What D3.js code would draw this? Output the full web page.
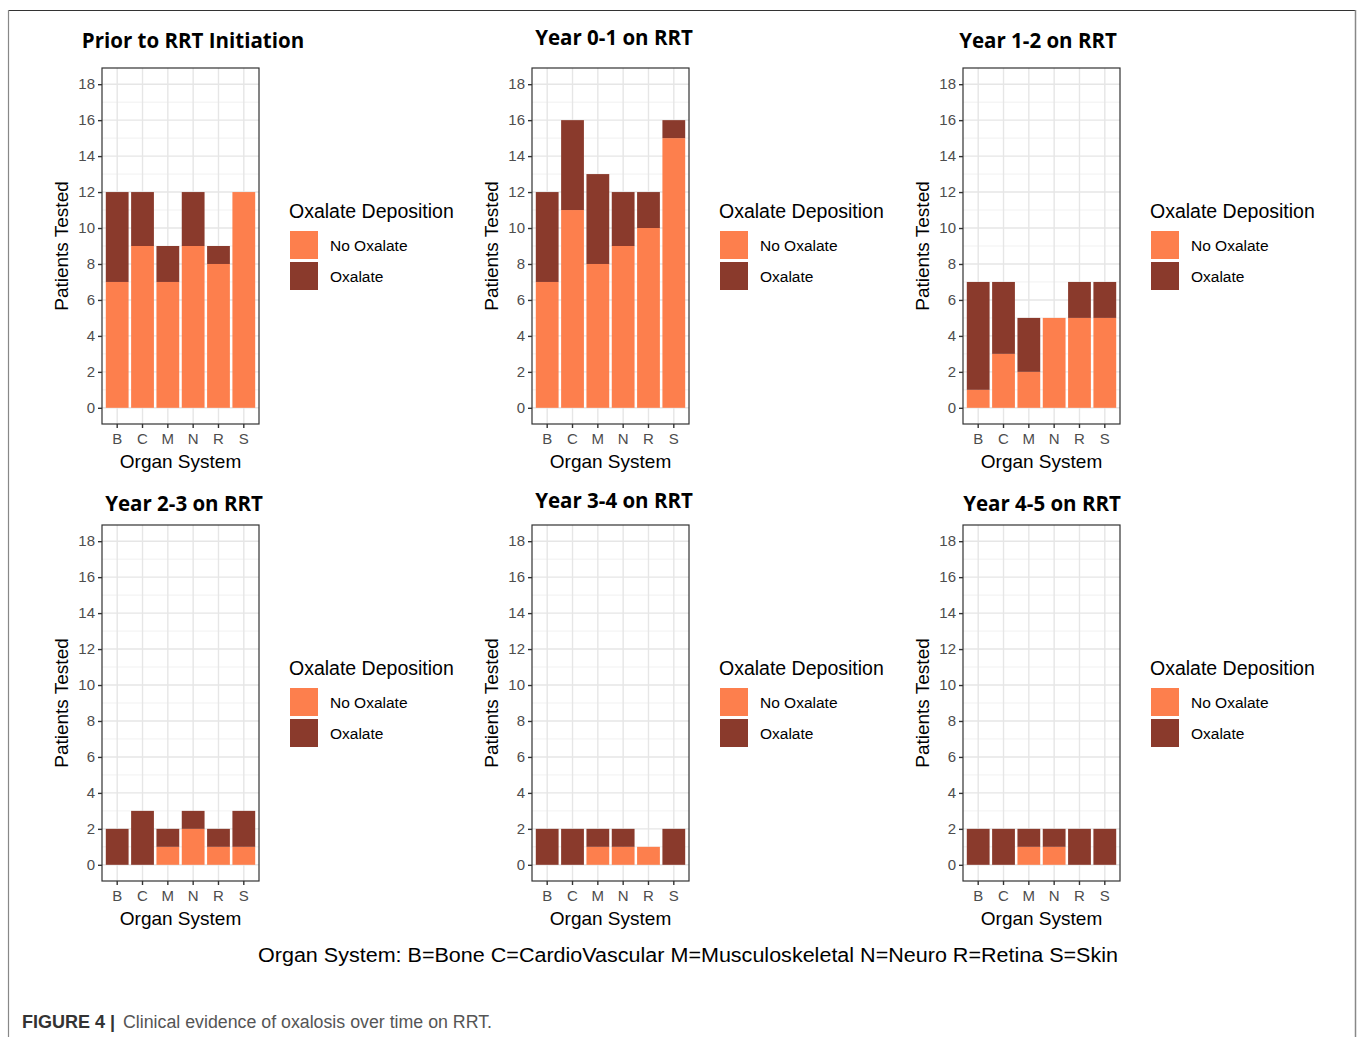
<!DOCTYPE html>
<html><head><meta charset="utf-8">
<script src="https://cdn.jsdelivr.net/npm/d3@7"></script>
<style>body{margin:0;background:#fff}</style>
</head><body>
<svg id="chart" width="1357" height="1037"></svg>
<script>
const categories = ["B","C","M","N","R","S"];
const panelTitles = ["Prior to RRT Initiation","Year 0-1 on RRT","Year 1-2 on RRT","Year 2-3 on RRT","Year 3-4 on RRT","Year 4-5 on RRT"];
const noOxalateCounts = [
  [7,9,7,9,8,12],
  [7,11,8,9,10,15],
  [1,3,2,5,5,5],
  [0,0,1,2,1,1],
  [0,0,1,1,1,0],
  [0,0,1,1,0,0]
];
const oxalateCounts = [
  [5,3,2,3,1,0],
  [5,5,5,3,2,1],
  [6,4,3,0,2,2],
  [2,3,1,1,1,2],
  [2,2,1,1,0,2],
  [2,2,1,1,2,2]
];
const seriesNames = ["No Oxalate","Oxalate"];
const seriesColors = ["#fd7f4d","#8a3a2c"];
const yTicks = [0,2,4,6,8,10,12,14,16,18];
const yMinorTicks = [1,3,5,7,9,11,13,15,17];
const legendTitle = "Oxalate Deposition";
const xTitle = "Organ System";
const yTitle = "Patients Tested";
const footnote = "Organ System: B=Bone C=CardioVascular M=Musculoskeletal N=Neuro R=Retina S=Skin";

const svg = d3.select("#chart");
const AX = "Liberation Sans, Arial, sans-serif";

// frame
svg.append("line").attr("x1",8).attr("x2",1356).attr("y1",10.5).attr("y2",10.5).attr("stroke","#333").attr("stroke-width",1.2);
svg.append("line").attr("x1",8.5).attr("x2",8.5).attr("y1",10).attr("y2",1037).attr("stroke","#888").attr("stroke-width",1.2);
svg.append("line").attr("x1",1355.5).attr("x2",1355.5).attr("y1",10).attr("y2",1037).attr("stroke","#888").attr("stroke-width",1.5);

const colLefts = [102, 532, 963];
const rowTops = [68, 525];
const titleCenters = [193, 614, 1038, 184, 614, 1042];
const titleBaselines = [48, 45, 48, 511, 508, 511];
const W = 157, H = 356;

panelTitles.forEach((title, i) => {
  const col = i % 3, row = Math.floor(i / 3);
  const x0 = colLefts[col], y0 = rowTops[row];
  const g = svg.append("g").attr("transform", `translate(${x0},${y0})`);
  const x = d3.scaleBand().domain(categories).range([0, W]).paddingInner(0.1).paddingOuter(0.15);
  const y = d3.scaleLinear().domain([-0.9, 18.9]).range([H, 0]);

  // grid
  g.selectAll(".minor").data(yMinorTicks).join("line")
    .attr("x1",0).attr("x2",W).attr("y1",d=>y(d)).attr("y2",d=>y(d))
    .attr("stroke","#ededed").attr("stroke-width",0.8);
  g.selectAll(".major").data(yTicks).join("line")
    .attr("x1",0).attr("x2",W).attr("y1",d=>y(d)).attr("y2",d=>y(d))
    .attr("stroke","#e6e6e6").attr("stroke-width",1.4);
  g.selectAll(".vmajor").data(categories).join("line")
    .attr("x1",d=>x(d)+x.bandwidth()/2).attr("x2",d=>x(d)+x.bandwidth()/2).attr("y1",0).attr("y2",H)
    .attr("stroke","#e6e6e6").attr("stroke-width",1.4);

  // stacked bars
  const rows = categories.map((c, k) => ({cat: c, "No Oxalate": noOxalateCounts[i][k], "Oxalate": oxalateCounts[i][k]}));
  const stacked = d3.stack().keys(seriesNames)(rows);
  stacked.forEach((layer, li) => {
    g.append("g").selectAll("rect").data(layer).join("rect")
      .attr("x", d => x(d.data.cat))
      .attr("width", x.bandwidth())
      .attr("y", d => y(d[1]))
      .attr("height", d => Math.max(0, y(d[0]) - y(d[1])))
      .attr("fill", seriesColors[li]);
  });

  // border
  g.append("rect").attr("x",0).attr("y",0).attr("width",W).attr("height",H)
    .attr("fill","none").attr("stroke","#333").attr("stroke-width",1.2);

  // axes
  const yAxis = d3.axisLeft(y).tickValues(yTicks).tickSize(4).tickPadding(3);
  const ya = g.append("g").call(yAxis);
  ya.select(".domain").remove();
  ya.selectAll(".tick line").attr("stroke","#333").attr("stroke-width",1.4);
  ya.selectAll(".tick text").attr("fill","#4d4d4d").attr("font-family",AX).attr("font-size",15);

  const xAxis = d3.axisBottom(x).tickSize(4).tickPadding(5);
  const xa = g.append("g").attr("transform",`translate(0,${H})`).call(xAxis);
  xa.select(".domain").remove();
  xa.selectAll(".tick line").attr("stroke","#333").attr("stroke-width",1.4);
  xa.selectAll(".tick text").attr("fill","#4d4d4d").attr("font-family",AX).attr("font-size",15);

  // axis titles
  g.append("text").attr("x", W/2).attr("y", H + 44).attr("text-anchor","middle")
    .attr("font-family",AX).attr("font-size",19).attr("fill","#000").text(xTitle);
  g.append("text").attr("transform",`translate(-34,${H/2}) rotate(-90)`)
    .attr("x",0).attr("y",0).attr("text-anchor","middle")
    .attr("font-family",AX).attr("font-size",19).attr("fill","#000").text(yTitle);

  // title
  svg.append("text").attr("x", titleCenters[i]).attr("y", titleBaselines[i]).attr("text-anchor","middle")
    .attr("font-family","Open Sans, sans-serif").attr("font-weight",700).attr("font-size",20.5)
    .attr("fill","#000").text(title);

  // legend
  const lg = g.append("g").attr("transform", `translate(187,0)`);
  lg.append("text").attr("x",0).attr("y",150).attr("font-family",AX).attr("font-size",19.5).attr("fill","#000").text(legendTitle);
  seriesNames.forEach((s, si) => {
    lg.append("rect").attr("x",1).attr("y",163 + si*31).attr("width",28).attr("height",28).attr("fill",seriesColors[si]);
    lg.append("text").attr("x",41).attr("y",183 + si*31).attr("font-family",AX).attr("font-size",15.5).attr("fill","#000").text(s);
  });
});

// footnote
svg.append("text").attr("x", 688).attr("y", 962).attr("text-anchor","middle")
  .attr("font-family",AX).attr("font-size",20).attr("fill","#000")
  .attr("textLength",860).attr("lengthAdjust","spacingAndGlyphs").text(footnote);

// caption
svg.append("text").attr("x",22).attr("y",1028).attr("font-family",AX).attr("font-size",18)
  .attr("font-weight",700).attr("fill","#333").text("FIGURE 4 |");
svg.append("text").attr("x",123).attr("y",1028).attr("font-family",AX).attr("font-size",18)
  .attr("fill","#555").attr("textLength",369).attr("lengthAdjust","spacingAndGlyphs")
  .text("Clinical evidence of oxalosis over time on RRT.");
</script>
</body></html>
